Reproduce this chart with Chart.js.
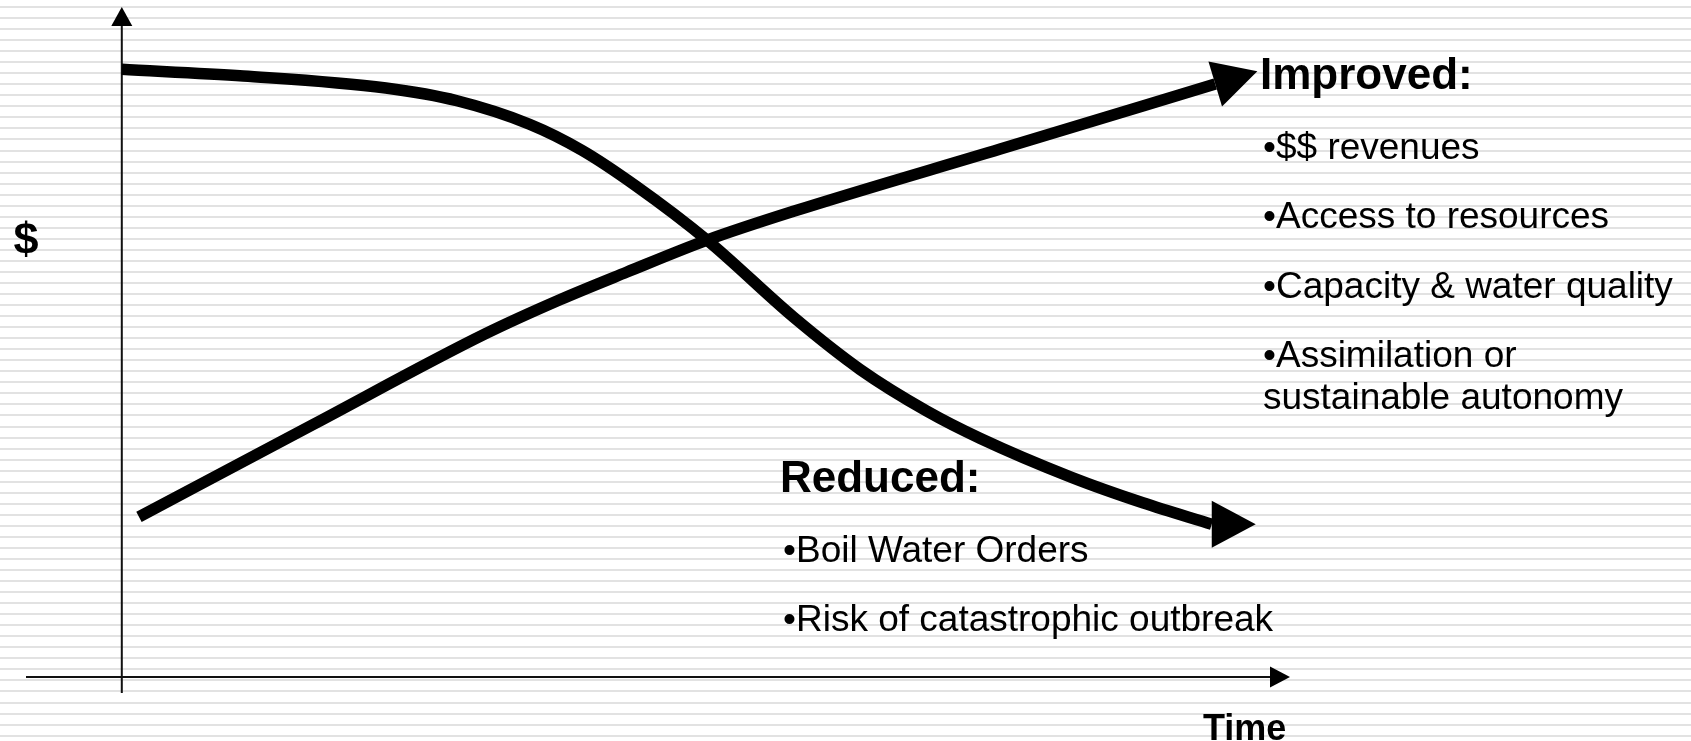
<!DOCTYPE html>
<html>
<head>
<meta charset="utf-8">
<script src="https://cdn.jsdelivr.net/npm/chart.js@4/dist/chart.umd.min.js"></script>
<style>
  html, body { margin: 0; padding: 0; background: #fff; }
  #wrap { width: 1691px; height: 741px; }
</style>
</head>
<body>
<div id="wrap"><canvas id="chart" width="1691" height="741"></canvas></div>
<script>
// values (time and $ in arbitrary units, axes cross at 0,0)
const improvedTime  = [1.47, 16.3, 31.1, 37.5, 43.2, 50.1, 57.5, 75.2, 93.6];
const improvedValue = [23.9, 37.6, 51.2, 56.3, 60.4, 65.2, 69.5, 78.8, 88.5];
const reducedTime   = [0.0, 10.4, 22.6, 28.7, 34.9, 39.4, 44.0, 50.1, 57.5, 63.2, 68.9, 73.5, 81.3, 87.4, 93.3];
const reducedValue  = [90.7, 89.7, 87.9, 86.0, 82.5, 78.6, 73.3, 65.2, 53.7, 45.9, 39.7, 35.6, 29.8, 26.0, 22.8];

const improvedTitle = 'Improved:';
const improvedNotes = ['•$$ revenues', '•Access to resources', '•Capacity & water quality', ['•Assimilation or', 'sustainable autonomy']];
const reducedTitle = 'Reduced:';
const reducedNotes = ['•Boil Water Orders', '•Risk of catastrophic outbreak'];
const xTitle = 'Time';
const yTitle = '$';

const FONT = '"Liberation Sans", Arial, sans-serif';

function toPoints(xs, ys) {
    return xs.map((x, i) => ({ x: x, y: ys[i] }));
}

function arrowHead(ctx, x, y, angle, len, half) {
    ctx.save();
    ctx.translate(x, y);
    ctx.rotate(angle);
    ctx.beginPath();
    ctx.moveTo(len, 0);
    ctx.lineTo(0, -half);
    ctx.lineTo(0, half);
    ctx.closePath();
    ctx.fill();
    ctx.restore();
}

// striped slide background
const stripes = {
    id: 'stripes',
    beforeDraw(chart) {
        const ctx = chart.ctx;
        ctx.save();
        ctx.fillStyle = '#fff';
        ctx.fillRect(0, 0, chart.width, chart.height);
        ctx.fillStyle = '#e2e2e2';
        for (let y = 6; y < chart.height; y += 11.04) {
            ctx.fillRect(0, Math.round(y), chart.width, 2);
        }
        ctx.restore();
    }
};

// the two axes with arrow tips, crossing at (0,0)
const arrowAxes = {
    id: 'arrowAxes',
    beforeDatasetsDraw(chart) {
        const ctx = chart.ctx;
        const area = chart.chartArea;
        const x0 = chart.scales.x.getPixelForValue(0);
        const y0 = chart.scales.y.getPixelForValue(0);
        ctx.save();
        ctx.strokeStyle = '#111';
        ctx.fillStyle = '#000';
        ctx.lineWidth = 2;
        ctx.beginPath();
        ctx.moveTo(x0, area.bottom);
        ctx.lineTo(x0, area.top + 19);
        ctx.moveTo(area.left, y0);
        ctx.lineTo(area.right - 20, y0);
        ctx.stroke();
        arrowHead(ctx, x0, area.top + 19, -Math.PI / 2, 19, 10.5);
        arrowHead(ctx, area.right - 20, y0, 0, 20, 10.5);
        ctx.restore();
    }
};

// big arrow heads on the end of each curve
const curveArrows = {
    id: 'curveArrows',
    afterDatasetsDraw(chart) {
        const ctx = chart.ctx;
        ctx.save();
        ctx.fillStyle = '#000';
        chart.data.datasets.forEach((ds, i) => {
            const pts = chart.getDatasetMeta(i).data;
            const end = pts[pts.length - 1];
            const prev = pts[pts.length - 2];
            const angle = ds.arrowAngle !== undefined ? ds.arrowAngle : Math.atan2(end.y - prev.y, end.x - prev.x);
            arrowHead(ctx, end.x, end.y, angle, 44, 23.5);
        });
        ctx.restore();
    }
};

// titles and bullet notes
const notes = {
    id: 'notes',
    afterDraw(chart) {
        const ctx = chart.ctx;
        ctx.save();
        ctx.fillStyle = '#000';
        ctx.textBaseline = 'alphabetic';

        ctx.font = 'bold 45px ' + FONT;
        ctx.textAlign = 'center';
        ctx.fillText(yTitle, 26, 254);
        ctx.textAlign = 'left';
        ctx.font = 'bold 36px ' + FONT;
        ctx.fillText(xTitle, 1203, 740);

        function block(title, items, x, y) {
            ctx.font = 'bold 44px ' + FONT;
            ctx.fillText(title, x - 3, y);
            ctx.font = '37px ' + FONT;
            let yy = y;
            items.forEach(item => {
                yy += 69.5;
                const lines = Array.isArray(item) ? item : [item];
                lines.forEach((line, j) => {
                    ctx.fillText(line, x, yy + j * 41.5);
                });
            });
        }
        block(improvedTitle, improvedNotes, 1263, 89);
        block(reducedTitle, reducedNotes, 783, 492);
        ctx.restore();
    }
};

const ctx = document.getElementById('chart').getContext('2d');
new Chart(ctx, {
    type: 'line',
    data: {
        datasets: [
            {
                label: 'Improved',
                data: toPoints(improvedTime, improvedValue),
                borderColor: '#000',
                borderWidth: 11.5,
                pointRadius: 0,
                cubicInterpolationMode: 'monotone',
                fill: false
            },
            {
                label: 'Reduced',
                data: toPoints(reducedTime, reducedValue),
                borderColor: '#000',
                borderWidth: 11.5,
                pointRadius: 0,
                cubicInterpolationMode: 'monotone',
                fill: false,
                arrowAngle: 0
            }
        ]
    },
    options: {
        responsive: false,
        animation: false,
        events: [],
        layout: { padding: { left: 26, right: 401, top: 7, bottom: 48 } },
        plugins: {
            legend: { display: false },
            tooltip: { enabled: false }
        },
        scales: {
            x: { type: 'linear', min: -8.2, max: 100, display: false },
            y: { type: 'linear', min: -2.4, max: 100, display: false }
        }
    },
    plugins: [stripes, arrowAxes, curveArrows, notes]
});
</script>
</body>
</html>
